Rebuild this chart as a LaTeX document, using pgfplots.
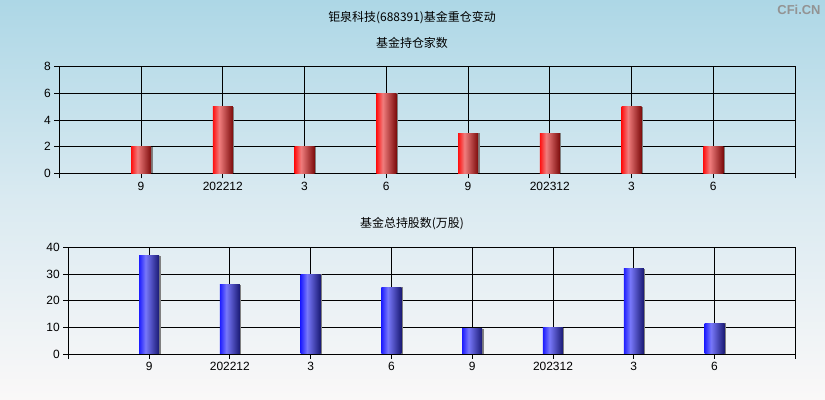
\documentclass[border=0pt]{standalone}
\usepackage{pgfplots}
\pgfplotsset{compat=1.18}
\usepackage{fontspec}
\setmainfont{Liberation Sans}
\newfontfamily\cjk{Noto Sans CJK SC}

\definecolor{bgtop}{RGB}{173,215,230}
\definecolor{bgmid}{RGB}{218,234,241}
\definecolor{bgbot}{RGB}{250,248,248}
\definecolor{redL}{RGB}{255,15,15}
\definecolor{redM}{RGB}{240,125,125}
\definecolor{redR}{RGB}{125,12,12}
\definecolor{bluL}{RGB}{30,30,255}
\definecolor{bluM}{RGB}{120,120,250}
\definecolor{bluR}{RGB}{25,25,115}

% bar face: bright edge, highlight about a third across, dark right edge
% (the middle 25bp..75bp of the shading is fitted to the bar)
\pgfdeclarehorizontalshading{redbar}{100bp}{color(0bp)=(redL); color(25bp)=(redL);
  color(41bp)=(redM); color(75bp)=(redR); color(100bp)=(redR)}
\pgfdeclarehorizontalshading{blubar}{100bp}{color(0bp)=(bluL); color(25bp)=(bluL);
  color(41bp)=(bluM); color(75bp)=(bluR); color(100bp)=(bluR)}

\pgfplotsset{
  chartbox/.style={
    scale only axis,
    anchor=south west,
    xmin=0, xmax=9,
    xtick={0,...,9},
    xticklabels={,9,202212,3,6,9,202312,3,6,},
    xmajorgrids, ymajorgrids,
    grid style={black, line width=0.8bp},
    axis line style={black, line width=0.8bp},
    major tick style={black, line width=0.8bp},
    major tick length=5bp,
    tick align=outside,
    tick pos=left,
    ticklabel style={font=\fontsize{12}{14}\selectfont, text=black},
    /pgf/number format/assume math mode=true,
    ymin=0,
  },
}

% one bar: gray shadow behind, shaded face on top (each its own path so the shading is per bar)
\newcommand\shbar[3]{%
  \addplot[ybar, bar width=20bp, bar shift=1.5bp, fill=gray, draw=none] coordinates {(#1,#2)};
  \addplot[ybar, bar width=20bp, bar shift=0bp, draw=none, shading=#3] coordinates {(#1,#2)};
}

\begin{document}
\begin{tikzpicture}
  \shade[top color=bgtop, bottom color=bgbot, middle color=bgmid] (0,0) rectangle (825bp,400bp);
  \node[text=gray!85, font=\bfseries\fontsize{13}{14}\selectfont] at (799bp,390bp) {CFi.CN};
  \node[font=\cjk\fontsize{12}{14}\selectfont] at (412bp,382bp) {钜泉科技(688391)基金重仓变动};
  \node[font=\cjk\fontsize{12}{14}\selectfont] at (412bp,357bp) {基金持仓家数};
  \node[font=\cjk\fontsize{12}{14}\selectfont] at (412bp,176bp) {基金总持股数(万股)};

  \begin{axis}[chartbox,
      at={(59.3bp,226.7bp)}, width=735.7bp, height=106.7bp,
      ymax=8, ytick={0,2,4,6,8}]
    \shbar{1}{2}{redbar}
    \shbar{2}{5}{redbar}
    \shbar{3}{2}{redbar}
    \shbar{4}{6}{redbar}
    \shbar{5}{3}{redbar}
    \shbar{6}{3}{redbar}
    \shbar{7}{5}{redbar}
    \shbar{8}{2}{redbar}
  \end{axis}

  \begin{axis}[chartbox,
      at={(68.3bp,46bp)}, width=727bp, height=106.7bp,
      ymax=40, ytick={0,10,20,30,40}]
    \shbar{1}{36.8}{blubar}
    \shbar{2}{25.9}{blubar}
    \shbar{3}{29.9}{blubar}
    \shbar{4}{25.1}{blubar}
    \shbar{5}{9.4}{blubar}
    \shbar{6}{9.9}{blubar}
    \shbar{7}{31.9}{blubar}
    \shbar{8}{11.6}{blubar}
  \end{axis}
  \pgfresetboundingbox
  \useasboundingbox (0,0) rectangle (825bp,400bp);
\end{tikzpicture}
\end{document}
